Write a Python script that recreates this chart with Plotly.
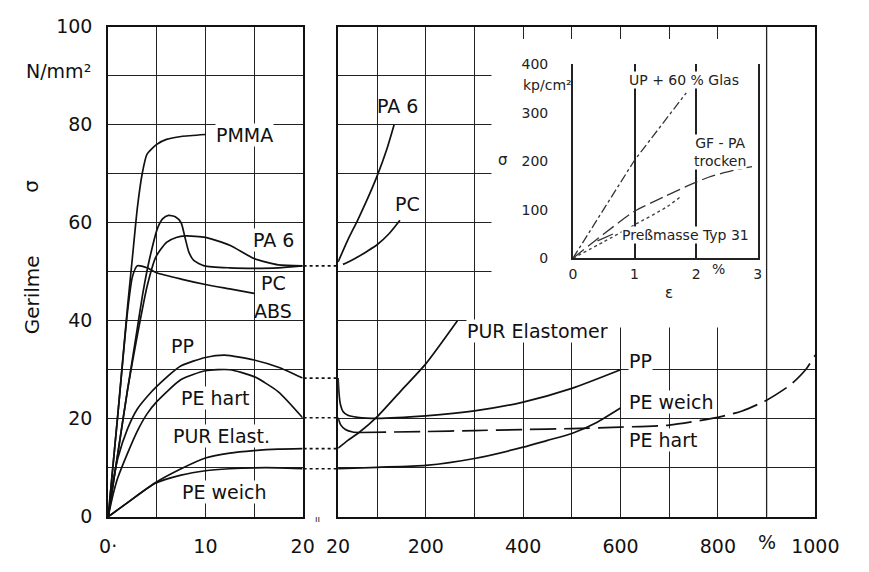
import plotly.graph_objects as go

# ---------------- data: left panel, strain 0..20 % ----------------
PMMA_L_x = [0, 1, 2, 2.5, 3, 3.5, 4, 5, 6, 7.5, 10]
PMMA_L_y = [0, 21, 43, 53, 63, 70, 74, 76, 77, 77.6, 78]
PC_L_x = [0, 1, 2, 3, 3.6, 4.3, 5.1, 5.6, 6.2, 6.9, 7.5, 7.9, 8.3, 8.8, 9.9, 12.5, 15, 17.5, 20]
PC_L_y = [0, 13, 26, 38.5, 46, 53, 59, 60.8, 61.5, 61.2, 60, 57, 54, 52.3, 51.2, 50.8, 50.7, 50.8, 51.2]
PA6_L_x = [0, 1, 2, 3, 4, 4.9, 6, 7, 8, 10, 12.5, 15, 17.5, 20]
PA6_L_y = [0, 13, 26, 37, 47, 53, 56, 57, 57.3, 57, 55.4, 52.7, 51.4, 51.2]
ABS_L_x = [0, 1, 2, 2.5, 3, 4, 5, 7.5, 10, 12.5, 15]
ABS_L_y = [0, 21, 42, 49, 51.2, 50.8, 49.8, 48.5, 47.4, 46.5, 45.6]
PP_L_x = [0, 0.5, 1, 2, 3, 4, 5, 7.5, 10, 12, 15, 17.5, 20]
PP_L_y = [0, 7, 12, 18, 22, 24.5, 26.6, 30.8, 32.5, 33, 32, 30.5, 28.3]
PEH_L_x = [0, 0.5, 1, 2, 3, 4, 5, 7.5, 10, 12.5, 15, 17.5, 20]
PEH_L_y = [0, 4.5, 8, 13, 17.5, 21, 23.5, 28, 29.8, 30, 28.6, 25.5, 20.2]
PUR_L_x = [0, 2, 4.8, 7.5, 10, 12.5, 15, 17.5, 20]
PUR_L_y = [0, 2.9, 6.9, 9.8, 12, 13, 13.5, 13.8, 13.9]
PEW_L_x = [0, 2, 4.8, 7.5, 10, 12.5, 15, 17.5, 20]
PEW_L_y = [0, 2.9, 6.8, 8.5, 9.4, 9.8, 10, 10, 9.8]

# ---------------- data: right panel, strain 20..1000 % ----------------
PA6_R_x = [20, 40, 60, 80, 100, 120, 135]
PA6_R_y = [52, 56.5, 60.5, 64.8, 69.5, 75, 80]
PC_R_x = [30, 45, 60, 80, 100, 125, 147]
PC_R_y = [51.5, 52.2, 53, 54.2, 55.5, 57.8, 60.5]
PUR_R_x = [20, 40, 63, 102, 150, 200, 265]
PUR_R_y = [14, 15.6, 17.2, 20.6, 25.8, 31.2, 40]
PP_R_x = [20, 22, 25, 30, 40, 60, 100, 200, 300, 400, 500, 600]
PP_R_y = [28.3, 25, 22.8, 21.5, 20.7, 20.3, 20.1, 20.6, 21.6, 23.4, 26.2, 30]
PEH_R1_x = [20, 25, 35, 50, 65]
PEH_R1_y = [20.2, 18.8, 17.8, 17.3, 17.2]
PEH_R2_x = [65, 200, 300, 400, 500, 600, 700, 800, 850, 900, 950, 980, 1000]
PEH_R2_y = [17.2, 17.4, 17.6, 17.8, 18, 18.3, 18.7, 20.3, 21.6, 23.8, 27, 30, 33]
PEW_R_x = [20, 100, 200, 300, 400, 450, 500, 550, 600]
PEW_R_y = [9.8, 10.1, 10.5, 11.9, 14.2, 15.6, 17, 19.2, 22.2]

# ---------------- data: inset (kp/cm^2 vs %) ----------------
UP_x = [0, 1, 1.84]
UP_y = [0, 202, 341]
GFPA_x = [0, 0.5, 1, 1.5, 1.84, 2.2, 2.6, 2.95]
GFPA_y = [0, 50, 97, 128, 148, 167, 181, 190]
PM_x = [0, 0.5, 1, 1.5, 1.75]
PM_y = [0, 34, 69, 104, 127]

# ---------------- tick labels ----------------
y_tickvals = list(range(0, 101, 10))
y_ticktext = ["0", "", "20", "", "40", "", "60", "", "80", "", "100"]
xl_tickvals = [0, 5, 10, 15, 20]
xl_ticktext = ["0·", "", "10", "", "20"]
xr_tickvals = [20, 100, 200, 300, 400, 500, 600, 700, 800, 900, 1000]
xr_ticktext = ["20", "", "200", "", "400", "", "600", "", "800", "", "1000"]
xi_tickvals = [0, 1, 2, 3]
xi_ticktext = ["0", "1", "2", "3"]
yi_tickvals = [0, 100, 200, 300, 400]
yi_ticktext = ["0", "100", "200", "300", "400"]

# page body has an 8 px margin, so the figure is drawn 8 px in from the corner
OFF = 8
W, H = 869 - OFF, 572 - OFF
FONT = "DejaVu Sans"
INK = "#111111"
GRID = "#222222"
INSET = "#222222"

fig = go.Figure()

def add(x, y, xa="x", ya="y", dash="solid", width=1.7, color=INK, smooth=True):
    fig.add_trace(go.Scatter(
        x=x, y=y, xaxis=xa, yaxis=ya, mode="lines", showlegend=False,
        hoverinfo="skip",
        line=dict(color=color, width=width, dash=dash,
                  shape="spline" if smooth else "linear", smoothing=0.6),
    ))

for xs, ys in [(PMMA_L_x, PMMA_L_y), (PC_L_x, PC_L_y), (PA6_L_x, PA6_L_y),
               (ABS_L_x, ABS_L_y), (PP_L_x, PP_L_y), (PEH_L_x, PEH_L_y),
               (PUR_L_x, PUR_L_y), (PEW_L_x, PEW_L_y)]:
    add(xs, ys)

for xs, ys in [(PA6_R_x, PA6_R_y), (PC_R_x, PC_R_y), (PUR_R_x, PUR_R_y),
               (PP_R_x, PP_R_y), (PEH_R1_x, PEH_R1_y), (PEW_R_x, PEW_R_y)]:
    add(xs, ys, "x2", "y2")
add(PEH_R2_x, PEH_R2_y, "x2", "y2", dash="26px,8px")

add(UP_x, UP_y, "x3", "y3", dash="dashdot", width=1.3, color="#333", smooth=False)
add(GFPA_x, GFPA_y, "x3", "y3", dash="14px,5px", width=1.3, color="#333")
add(PM_x, PM_y, "x3", "y3", dash="dot", width=1.4, color="#444")

# screen pixel -> paper fraction
px = lambda p: (p - OFF) / W
py = lambda p: 1 - (p - OFF) / H

ax_common = dict(showline=True, linecolor=INK, linewidth=1.8, mirror=True,
                 showgrid=True, gridcolor=GRID, gridwidth=1.3, zeroline=False,
                 ticks="", tickfont=dict(family=FONT, size=19, color=INK))
ydom = [py(526), py(16)]

fig.update_layout(
    width=W, height=H, margin=dict(l=0, r=0, t=0, b=0),
    paper_bgcolor="white", plot_bgcolor="white",
    font=dict(family=FONT, color=INK),
    xaxis=dict(domain=[px(100), px(303)], range=[0, 20], anchor="y",
               tickmode="array", tickvals=xl_tickvals, ticktext=xl_ticktext,
               ticklabelstandoff=12, **ax_common),
    yaxis=dict(domain=ydom, range=[0, 100], anchor="x",
               tickmode="array", tickvals=y_tickvals, ticktext=y_ticktext,
               ticklabelstandoff=10, **ax_common),
    xaxis2=dict(domain=[px(340), px(838)], range=[20, 1000], anchor="y2",
                tickmode="array", tickvals=xr_tickvals, ticktext=xr_ticktext,
                ticklabelstandoff=12, **ax_common),
    yaxis2=dict(domain=ydom, range=[0, 100], anchor="x2",
                tickmode="array", tickvals=y_tickvals, showticklabels=False,
                **ax_common),
    xaxis3=dict(domain=[px(585), px(778)], range=[0, 3], anchor="y3",
                tickmode="array", tickvals=xi_tickvals, ticktext=xi_ticktext,
                showline=True, linecolor=INSET, linewidth=1.6, mirror=False,
                showgrid=True, gridcolor=INSET, gridwidth=1.6, zeroline=False,
                ticks="", ticklabelstandoff=2,
                tickfont=dict(family=FONT, size=14, color=INSET)),
    yaxis3=dict(domain=[py(257), py(55)], range=[0, 400], anchor="x3",
                tickmode="array", tickvals=yi_tickvals, ticktext=yi_ticktext,
                showline=True, linecolor=INSET, linewidth=1.6, mirror=True,
                showgrid=False, zeroline=False, ticks="", ticklabelstandoff=20,
                tickfont=dict(family=FONT, size=14, color=INSET)),
)

shapes = []
# white area behind the inset
shapes.append(dict(type="rect", xref="x2", yref="y2", x0=335, x1=1000, y0=38.6, y1=97.5,
                   fillcolor="white", line=dict(width=0), layer="between"))
shapes.append(dict(type="line", xref="x2", yref="y2", x0=900, x1=900, y0=0, y1=100,
                   line=dict(color=GRID, width=1.3), layer="between"))
# dotted connections across the axis break
for yv in [PA6_L_y[-1], PP_L_y[-1], PEH_L_y[-1], PUR_L_y[-1], PEW_L_y[-1]]:
    shapes.append(dict(type="line", xref="paper", yref="y", x0=px(304), x1=px(339),
                       y0=yv, y1=yv, line=dict(color=INK, width=1.6, dash="dot")))
# leader line of the Preßmasse label
shapes.append(dict(type="line", xref="x3", yref="y3", x0=0.4, x1=0.65, y0=36, y1=50,
                   line=dict(color="#333", width=1.3)))
fig.update_layout(shapes=shapes)

ann = []
def label(text, x, y, xref="x", yref="y", size=19, bg="white", xanchor="center", color=INK, angle=0):
    ann.append(dict(text=text, x=x, y=y, xref=xref, yref=yref, showarrow=False,
                    xanchor=xanchor, yanchor="middle", textangle=angle,
                    font=dict(family=FONT, size=size, color=color),
                    bgcolor=bg, borderpad=0))

# left panel labels
label("PMMA", 11.0, 77.9, xanchor="left")
label("PA 6", 17.0, 56.4)
label("PC", 17.0, 47.8, bg=None)
label("ABS", 17.0, 41.9, bg=None)
label("PP", 7.6, 34.8)
label("PE hart", 11.0, 24.3)
label("PUR Elast.", 11.7, 16.4)
label("PE weich", 12.0, 5.1)
# right panel labels
label("PA 6", 142, 83.8, "x2", "y2", bg=None)
label("PC", 162, 63.8, "x2", "y2", bg=None)
label("PUR Elastomer", 282, 38, "x2", "y2", xanchor="left")
label("PP", 616, 31.8, "x2", "y2", xanchor="left")
label("PE weich", 616, 23.5, "x2", "y2", xanchor="left")
label("PE hart", 616, 15.6, "x2", "y2", xanchor="left")
label("%", 900, py(552), "x2", "paper", bg=None)
# axis texts
label("N/mm²", px(48), py(62), "paper", "paper", bg=None)
label("Gerilme", px(20), py(295), "paper", "paper", bg=None, angle=-90, size=20)
label("σ", px(20), py(182), "paper", "paper", bg=None, angle=-90, size=20)
label("ıı", px(318), py(528), "paper", "paper", size=9, bg=None)
# inset labels
label("UP + 60 % Glas", 1.81, 367, "x3", "y3", size=14, color=INSET)
label("GF - PA<br>trocken", 2.38, 218, "x3", "y3", size=14, color=INSET)
label("Preßmasse Typ 31", 1.82, 48, "x3", "y3", size=14, color=INSET)
label("kp/cm²", px(558), py(77), "paper", "paper", size=14, bg=None, color=INSET)
label("σ", px(512), py(155), "paper", "paper", size=15, bg=None, color=INSET)
label("%", px(737), py(268), "paper", "paper", size=14, bg=None, color=INSET)
label("ε", px(685), py(293), "paper", "paper", size=15, bg=None, color=INSET)
fig.update_layout(annotations=ann)

fig.write_html("out.html")
